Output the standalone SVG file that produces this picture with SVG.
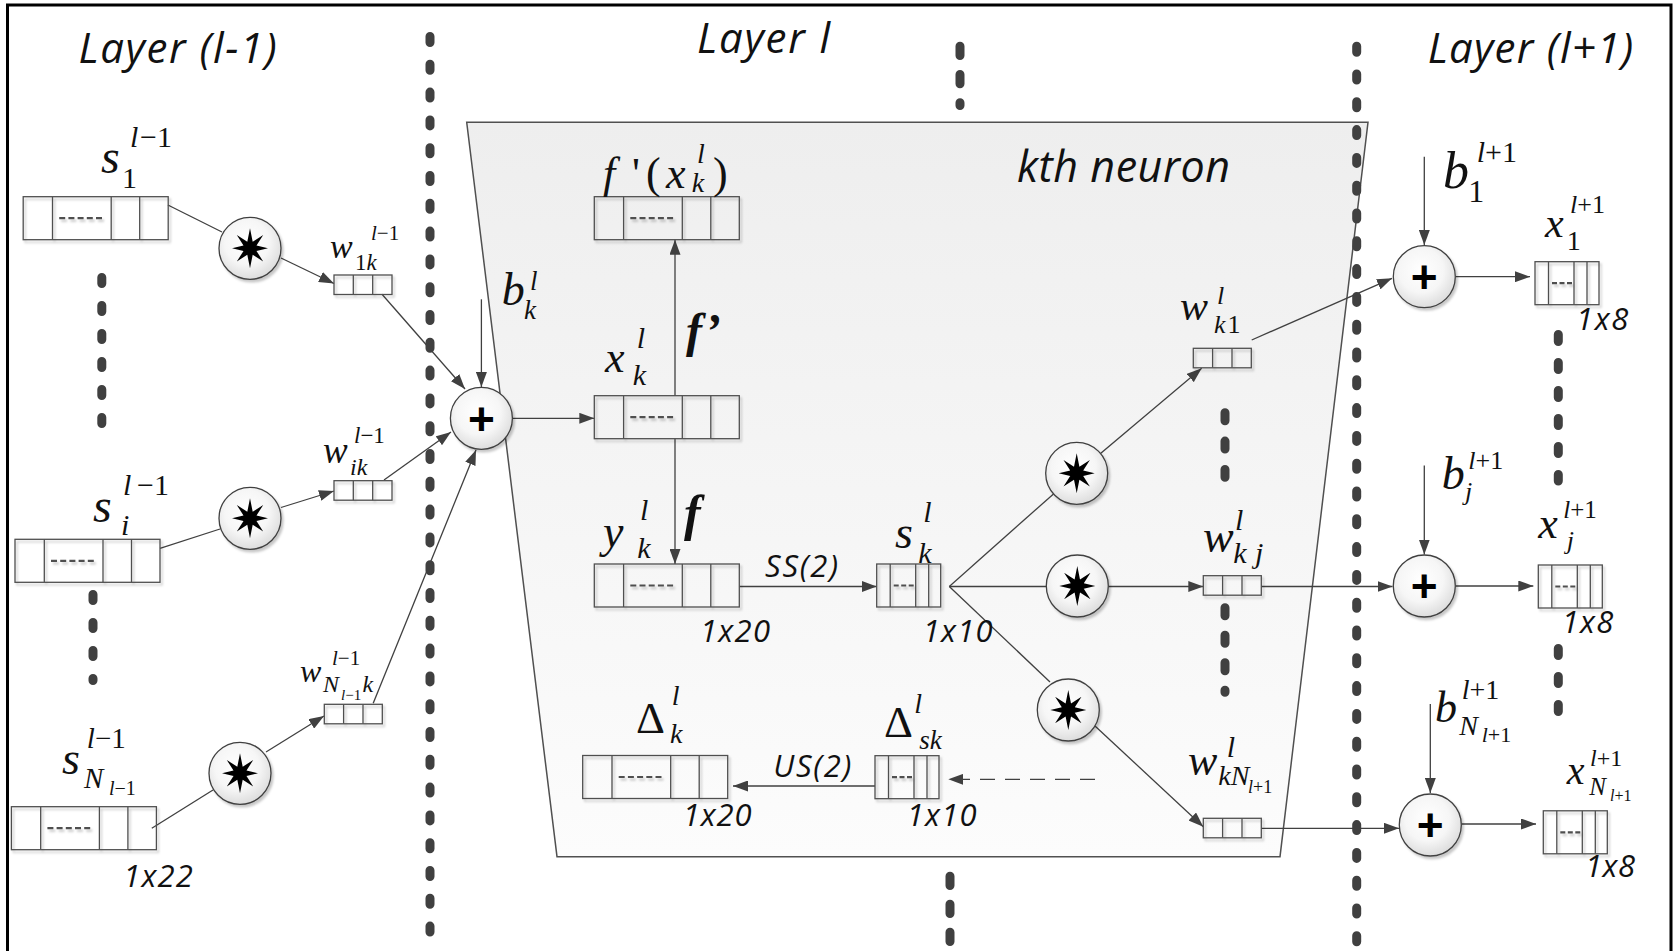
<svg xmlns="http://www.w3.org/2000/svg" width="1677" height="951" viewBox="0 0 1677 951">
<style>
.frame{fill:none;stroke:#000;stroke-width:3}
.dots{fill:none;stroke:#404040;stroke-width:9;stroke-linecap:round}
.ln{fill:none;stroke:#404040;stroke-width:1.3}
.arr{fill:none;stroke:#404040;stroke-width:1.3;marker-end:url(#ah)}
.cell{fill:none;stroke:#505050;stroke-width:1.3}
.cd{fill:none;stroke:#505050;stroke-width:2.2;stroke-dasharray:6 3.2}
.node{fill:url(#cg);stroke:#404040;stroke-width:1.3}
.m{font-family:'Liberation Serif','Times New Roman',serif;font-style:italic;fill:#111}
.r{font-style:normal}
.t{font-family:'Open Sans','Liberation Sans',sans-serif;font-style:italic;fill:#111}
.plus{font-family:'Liberation Sans',Arial,sans-serif;font-weight:bold;font-size:46px;text-anchor:middle;fill:#000}
</style>
<defs>
<marker id="ah" markerUnits="userSpaceOnUse" markerWidth="16" markerHeight="11" refX="15" refY="5.5" orient="auto"><path d="M0,0 L15,5.5 L0,11 Z" fill="#404040"/></marker>
<radialGradient id="cg" cx="45%" cy="40%" r="65%"><stop offset="0" stop-color="#ffffff"/><stop offset="0.55" stop-color="#f6f6f6"/><stop offset="1" stop-color="#d8d8d8"/></radialGradient>
<linearGradient id="tg" x1="0" y1="0" x2="0" y2="1"><stop offset="0" stop-color="#eeeeee"/><stop offset="1" stop-color="#fcfcfc"/></linearGradient>
<filter id="sh" x="-20%" y="-20%" width="150%" height="160%"><feDropShadow dx="2" dy="2.5" stdDeviation="1.2" flood-color="#000" flood-opacity="0.22"/></filter>
<g id="bb"><rect width="145" height="43" class="cell"/><path d="M29.3,0V43M88,0V43M116.5,0V43" class="cell"/><path d="M36,21.5H81" class="cd"/></g>
<g id="mb"><rect width="64" height="43" class="cell"/><path d="M13.5,0V43M39,0V43M52,0V43" class="cell"/><path d="M17,21.5H37" class="cd" style="stroke-dasharray:5 2.5"/></g>
<g id="wb"><rect width="58" height="19.5" class="cell"/><path d="M19.3,0V19.5M38.7,0V19.5" class="cell"/></g>
<g id="sc"><circle r="31" class="node"/><path d="M0,-20 L2.7,-6.5 L13.2,-13.2 L6.5,-2.7 L18,0 L6.5,2.7 L13.2,13.2 L2.7,6.5 L0,20 L-2.7,6.5 L-13.2,13.2 L-6.5,2.7 L-18,0 L-6.5,-2.7 L-13.2,-13.2 L-2.7,-6.5 Z" fill="#000"/></g>
<circle id="pc" r="31" class="node"/>
</defs>

<g id="frame"><path class="frame" d="M7.5,951 V5 H1671 V951"/></g>

<g id="neuron-k">
<path d="M466.7,122.3 L1368,122.3 L1280,856.7 L557,856.7 Z" fill="url(#tg)" stroke="#505050" stroke-width="1.5"/>
<text class="t" x="1017" y="181.7" font-size="43" textLength="213">kth neuron</text>
</g>

<g id="separators">
<line class="dots" x1="430" y1="36.5" x2="430" y2="951" stroke-dasharray="6 21.8"/>
<line class="dots" x1="1356.7" y1="46.2" x2="1356.7" y2="951" stroke-dasharray="6 21.8"/>
<line class="dots" x1="960" y1="46.2" x2="960" y2="105.5" stroke-dasharray="9.3 19"/>
<line class="dots" x1="950" y1="876.2" x2="950" y2="941.5" stroke-dasharray="9.3 18.7"/>
<line class="dots" x1="101.8" y1="277.5" x2="101.8" y2="425.5" stroke-dasharray="6 22"/>
<line class="dots" x1="93" y1="594.5" x2="93" y2="680.5" stroke-dasharray="6 22"/>
<line class="dots" x1="1225" y1="412.8" x2="1225" y2="477.2" stroke-dasharray="8 20.3"/>
<line class="dots" x1="1225" y1="607.8" x2="1225" y2="692.2" stroke-dasharray="8 19.5"/>
<line class="dots" x1="1558.3" y1="334.5" x2="1558.3" y2="481" stroke-dasharray="7 21"/>
<line class="dots" x1="1558.3" y1="648.5" x2="1558.3" y2="730.5" stroke-dasharray="7 21"/>
</g>

<g id="layer-titles">
<text class="t" x="78.6" y="63" font-size="42" textLength="198">Layer (l-1)</text>
<text class="t" x="697" y="53" font-size="42" textLength="133">Layer l</text>
<text class="t" x="1427.7" y="63.3" font-size="42" textLength="205.6">Layer (l+1)</text>
</g>

<g id="connectors">
<line class="ln" x1="167.9" y1="205" x2="222" y2="232"/>
<line class="arr" x1="281" y1="258" x2="334" y2="283.5"/>
<line class="arr" x1="382" y1="294.3" x2="465" y2="389"/>
<line class="ln" x1="160" y1="548.3" x2="220" y2="529"/>
<line class="arr" x1="281" y1="507.5" x2="334" y2="491"/>
<line class="arr" x1="384" y1="480" x2="451" y2="432"/>
<line class="ln" x1="151.8" y1="828.3" x2="213" y2="790"/>
<line class="arr" x1="266" y1="752" x2="324" y2="716"/>
<line class="arr" x1="373.2" y1="703.3" x2="476" y2="450"/>
<line class="arr" x1="481.4" y1="299.3" x2="481.4" y2="387"/>
<line class="arr" x1="512.5" y1="418.3" x2="594.3" y2="418.3"/>
<line class="arr" x1="675" y1="395.7" x2="675" y2="239.7"/>
<line class="arr" x1="675" y1="438.7" x2="675" y2="564"/>
<line class="arr" x1="739.3" y1="586.5" x2="876.7" y2="586.5"/>
<line class="ln" x1="949.3" y1="586.5" x2="1053.5" y2="493.9"/>
<line class="ln" x1="949.3" y1="586.5" x2="1046" y2="586.5"/>
<line class="ln" x1="949.3" y1="586.5" x2="1050" y2="682"/>
<line class="arr" x1="1100.5" y1="453.5" x2="1201.7" y2="368.3"/>
<line class="arr" x1="1108.5" y1="586.5" x2="1203.3" y2="586.5"/>
<line class="arr" x1="1095" y1="726" x2="1203.3" y2="826.7"/>
<line class="arr" x1="1251.7" y1="340" x2="1392" y2="278.3"/>
<line class="arr" x1="1261.3" y1="586.5" x2="1392.5" y2="586.5"/>
<line class="arr" x1="1261.3" y1="828.3" x2="1399" y2="828.3"/>
<line class="arr" x1="1424.3" y1="156.7" x2="1424.3" y2="245"/>
<line class="arr" x1="1424.3" y1="465.6" x2="1424.3" y2="554.5"/>
<line class="arr" x1="1430.3" y1="704" x2="1430.3" y2="793"/>
<line class="arr" x1="1455.8" y1="276.7" x2="1530" y2="276.7"/>
<line class="arr" x1="1455.8" y1="586" x2="1533.3" y2="586"/>
<line class="arr" x1="1461.5" y1="824" x2="1536" y2="824"/>
<line class="arr" x1="875" y1="786" x2="733" y2="786"/>
<line class="arr" x1="1095" y1="779.3" x2="948.3" y2="779.3" style="stroke-dasharray:15 10"/>
</g>

<g id="s1">
<use href="#bb" x="23.2" y="196.7" filter="url(#sh)"/>
<text class="m" x="101" y="173" font-size="48">s</text>
<text class="m" x="130" y="147" font-size="30">l</text><text class="m r" x="140" y="147" font-size="30">−1</text>
<text class="m r" x="122" y="188" font-size="30">1</text>
</g>
<g id="si">
<use href="#bb" x="15" y="539.3" filter="url(#sh)"/>
<text class="m" x="93" y="521.7" font-size="48">s</text>
<text class="m" x="123" y="495" font-size="30">l</text><text class="m r" x="137" y="495" font-size="30">−1</text>
<text class="m" x="121" y="535" font-size="30">i</text>
</g>
<g id="sN">
<use href="#bb" x="11.4" y="806.7" filter="url(#sh)"/>
<text class="m" x="62" y="774" font-size="46">s</text>
<text class="m" x="86.8" y="748.3" font-size="29">l</text><text class="m r" x="95" y="748.3" font-size="29">−1</text>
<text class="m" x="84" y="788.3" font-size="29">N</text>
<text class="m" x="109" y="795" font-size="20">l<tspan class="r">−1</tspan></text>
<text class="t" x="123.2" y="886.7" font-size="31" textLength="69.7">1x22</text>
</g>

<g id="m1"><use href="#sc" x="250" y="248.3" filter="url(#sh)"/></g>
<g id="m2"><use href="#sc" x="250" y="518.3" filter="url(#sh)"/></g>
<g id="m3"><use href="#sc" x="240" y="773.3" filter="url(#sh)"/></g>

<g id="w1k">
<use href="#wb" x="334" y="275" filter="url(#sh)"/>
<text class="m" x="330" y="258" font-size="34">w</text>
<text class="m" x="371" y="240" font-size="21">l<tspan class="r">−1</tspan></text>
<text class="m" x="355" y="270" font-size="23"><tspan class="r">1</tspan>k</text>
</g>
<g id="wik">
<use href="#wb" x="334" y="480.7" filter="url(#sh)"/>
<text class="m" x="323" y="463.3" font-size="37">w</text>
<text class="m" x="354" y="443.3" font-size="23">l<tspan class="r">−1</tspan></text>
<text class="m" x="350" y="475" font-size="24">ik</text>
</g>
<g id="wNk">
<use href="#wb" x="324.3" y="704.3" filter="url(#sh)"/>
<text class="m" x="300" y="681.7" font-size="32">w</text>
<text class="m" x="332" y="665" font-size="21">l<tspan class="r">−1</tspan></text>
<text class="m" x="323" y="691.7" font-size="24">N</text>
<text class="m" x="341" y="700" font-size="15">l<tspan class="r">−1</tspan></text>
<text class="m" x="362.5" y="691.7" font-size="24">k</text>
</g>

<g id="sum-k">
<use href="#pc" x="481.4" y="418.3" filter="url(#sh)"/>
<text class="plus" x="481.4" y="434.5">+</text>
<text class="m" x="501.7" y="305" font-size="46">b</text>
<text class="m" x="530" y="290" font-size="27">l</text>
<text class="m" x="524" y="319" font-size="27">k</text>
</g>

<g id="fprime">
<use href="#bb" x="594.3" y="196.7" filter="url(#sh)"/>
<text class="m" x="603" y="188.3" font-size="44">f</text>
<text class="m r" x="632" y="188.3" font-size="44">'</text>
<text class="m r" x="646" y="188.3" font-size="44">(</text>
<text class="m" x="666" y="188.3" font-size="44">x</text>
<text class="m" x="697" y="163" font-size="28">l</text>
<text class="m" x="691.7" y="191.7" font-size="28">k</text>
<text class="m r" x="713" y="188.3" font-size="44">)</text>
</g>
<g id="xk">
<use href="#bb" x="594.3" y="395.7" filter="url(#sh)"/>
<text class="m" x="605" y="371.7" font-size="44">x</text>
<text class="m" x="636.7" y="348" font-size="30">l</text>
<text class="m" x="632.7" y="385" font-size="30">k</text>
<text class="m" x="686" y="346.7" font-size="48" font-weight="bold">f’</text>
</g>
<g id="yk">
<use href="#bb" x="594.3" y="564" filter="url(#sh)"/>
<text class="m" x="603" y="546.7" font-size="46">y</text>
<text class="m" x="640" y="520" font-size="30">l</text>
<text class="m" x="637.3" y="558.3" font-size="30">k</text>
<text class="m" x="684" y="530" font-size="50" font-weight="bold">f</text>
<text class="t" x="700" y="641.7" font-size="31" textLength="70">1x20</text>
<text class="t" x="765" y="576.7" font-size="31" textLength="73">SS(2)</text>
</g>
<g id="sk">
<use href="#mb" x="876.7" y="564" filter="url(#sh)"/>
<text class="m" x="895" y="548.3" font-size="46">s</text>
<text class="m" x="923.3" y="521.7" font-size="30">l</text>
<text class="m" x="918.3" y="563.3" font-size="30">k</text>
<text class="t" x="922.7" y="641.7" font-size="31" textLength="70">1x10</text>
</g>
<g id="dk">
<use href="#bb" x="582.7" y="755.5" filter="url(#sh)"/>
<text class="m r" x="636" y="733.3" font-size="45">Δ</text>
<text class="m" x="671.7" y="705" font-size="28">l</text>
<text class="m" x="670" y="743.3" font-size="28">k</text>
<text class="t" x="682.7" y="826" font-size="31" textLength="69">1x20</text>
<text class="t" x="773.3" y="776.7" font-size="31" textLength="78">US(2)</text>
</g>
<g id="dsk">
<use href="#mb" x="875" y="755.7" filter="url(#sh)"/>
<text class="m r" x="884" y="736.7" font-size="45">Δ</text>
<text class="m" x="914.3" y="713" font-size="28">l</text>
<text class="m" x="919.3" y="749.3" font-size="27">sk</text>
<text class="t" x="906.7" y="826" font-size="31" textLength="70">1x10</text>
</g>

<g id="n1"><use href="#sc" x="1076.7" y="473.3" filter="url(#sh)"/></g>
<g id="n2"><use href="#sc" x="1077.3" y="586" filter="url(#sh)"/></g>
<g id="n3"><use href="#sc" x="1068.3" y="710" filter="url(#sh)"/></g>

<g id="wk1">
<use href="#wb" x="1193.3" y="348.3" filter="url(#sh)"/>
<text class="m" x="1180" y="320" font-size="42">w</text>
<text class="m" x="1217" y="304" font-size="26">l</text>
<text class="m" x="1214" y="333" font-size="26">k<tspan class="r" dx="2">1</tspan></text>
</g>
<g id="wkj">
<use href="#wb" x="1203.3" y="575.7" filter="url(#sh)"/>
<text class="m" x="1203" y="551.7" font-size="46">w</text>
<text class="m" x="1235" y="530" font-size="30">l</text>
<text class="m" x="1233.3" y="563.3" font-size="30">k</text>
<text class="m" x="1255" y="563.3" font-size="30">j</text>
</g>
<g id="wkN">
<use href="#wb" x="1203.3" y="818.3" filter="url(#sh)"/>
<text class="m" x="1188" y="775" font-size="44">w</text>
<text class="m" x="1226.7" y="756.7" font-size="30">l</text>
<text class="m" x="1218.3" y="785" font-size="28">kN</text>
<text class="m" x="1248" y="793.3" font-size="18">l<tspan class="r">+1</tspan></text>
</g>

<g id="sum-1">
<use href="#pc" x="1424.3" y="276.7" filter="url(#sh)"/>
<text class="plus" x="1424.3" y="292.9">+</text>
<text class="m" x="1443" y="188.3" font-size="52">b</text>
<text class="m" x="1476.7" y="161.7" font-size="30">l<tspan class="r">+1</tspan></text>
<text class="m r" x="1468.3" y="201.7" font-size="32">1</text>
</g>
<g id="sum-j">
<use href="#pc" x="1424.3" y="586" filter="url(#sh)"/>
<text class="plus" x="1424.3" y="602.2">+</text>
<text class="m" x="1441.7" y="489.2" font-size="46">b</text>
<text class="m" x="1468.3" y="469.2" font-size="26">l<tspan class="r">+1</tspan></text>
<text class="m" x="1465" y="500.2" font-size="26">j</text>
</g>
<g id="sum-N">
<use href="#pc" x="1430.3" y="825" filter="url(#sh)"/>
<text class="plus" x="1430.3" y="841.2">+</text>
<text class="m" x="1435" y="722.3" font-size="44">b</text>
<text class="m" x="1461.7" y="698.6" font-size="28">l<tspan class="r">+1</tspan></text>
<text class="m" x="1459.3" y="735" font-size="28">N</text>
<text class="m" x="1481.7" y="742.3" font-size="22">l<tspan class="r">+1</tspan></text>
</g>

<g id="x1">
<use href="#mb" x="1535" y="261.7" filter="url(#sh)"/>
<text class="m" x="1545" y="236.7" font-size="42">x</text>
<text class="m" x="1570" y="213.3" font-size="26">l<tspan class="r">+1</tspan></text>
<text class="m r" x="1566.7" y="250" font-size="28">1</text>
<text class="t" x="1576" y="330" font-size="31" textLength="52.3">1x8</text>
</g>
<g id="xj">
<use href="#mb" x="1538.3" y="565" filter="url(#sh)"/>
<text class="m" x="1538.3" y="538.4" font-size="44">x</text>
<text class="m" x="1563.3" y="517.7" font-size="25">l<tspan class="r">+1</tspan></text>
<text class="m" x="1566.7" y="549.3" font-size="26">j</text>
<text class="t" x="1561.7" y="633.1" font-size="31" textLength="51.6">1x8</text>
</g>
<g id="xN">
<use href="#mb" x="1543.3" y="810.8" filter="url(#sh)"/>
<text class="m" x="1566.7" y="784.2" font-size="40">x</text>
<text class="m" x="1590" y="766" font-size="24">l<tspan class="r">+1</tspan></text>
<text class="m" x="1589.3" y="795.1" font-size="25">N</text>
<text class="m" x="1610" y="800.6" font-size="16">l<tspan class="r">+1</tspan></text>
<text class="t" x="1585" y="877.1" font-size="31" textLength="50">1x8</text>
</g>
</svg>
